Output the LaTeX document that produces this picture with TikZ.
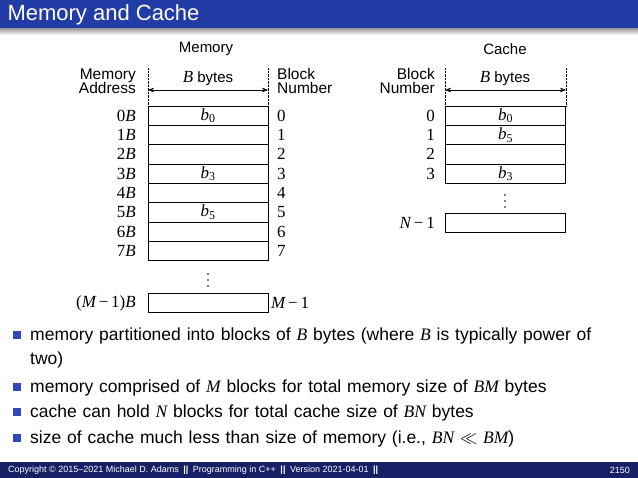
\documentclass[tikz,border=0pt]{standalone}
\usepackage{fontspec}
\setmainfont{Liberation Sans}
\newfontfamily\serifm{Liberation Serif}
\usetikzlibrary{arrows.meta}
\definecolor{titleblue}{RGB}{33,60,165}
\definecolor{footblue}{RGB}{22,32,100}
\definecolor{bulletblue}{RGB}{50,70,190}
\newcommand{\mi}[1]{{\serifm\itshape #1}}
\newcommand{\mr}[1]{{\serifm #1}}
\begin{document}
\begin{tikzpicture}[x=1pt,y=-1pt,
  cell/.style={draw,minimum width=120pt,minimum height=19.3pt,inner sep=0pt,font=\fontsize{17}{17}\selectfont},
  lbl/.style={font=\fontsize{17}{17}\selectfont,inner sep=1pt},
  sl/.style={font=\fontsize{15}{15}\selectfont,inner sep=1pt},
  hd/.style={font=\fontsize{15.5}{14.5}\selectfont,inner sep=1pt,align=left},
  bul/.style={anchor=west,font=\fontsize{17.5}{24}\selectfont,inner sep=0pt,text width=575pt,align=left},
  bsq/.style={fill=bulletblue,minimum size=8pt,inner sep=0pt}]
\useasboundingbox (0,0) rectangle (638,478);
\fill[white] (0,0) rectangle (638,478);
\fill[titleblue] (0,0) rectangle (638,29);
\shade[top color=black!35,bottom color=white] (0,29) rectangle (638,35);
\node[anchor=west,text=white,font=\fontsize{22}{22}\selectfont] (title) at (4,15) {Memory and Cache};
\node[sl] (memt) at (206,49) {Memory};
\node[sl] (cact) at (505,49) {Cache};
\node[hd,anchor=east,align=right] (maddr) at (137,81) {Memory\\Address};
\node[hd,anchor=west] (mbn) at (276,81) {Block\\Number};
\node[hd,anchor=east,align=right] (cbn) at (436,81) {Block\\Number};
\coordinate (m1) at (148,68); \coordinate (m2) at (268,68);
\coordinate (m1b) at (148,106); \coordinate (m2b) at (268,106);
\draw[densely dotted] (m1) -- (m1b); \draw[densely dotted] (m2) -- (m2b);
\coordinate (ma) at (148,90); \coordinate (mb) at (268,90);
\draw[{Stealth[length=6pt]}-{Stealth[length=6pt]}] (ma) -- (mb);
\node[sl] (mbytes) at (208,78) {\mi{\fontsize{17}{17}\selectfont B} bytes};
\coordinate (c1) at (445,68); \coordinate (c2) at (566,68);
\coordinate (c1b) at (445,106); \coordinate (c2b) at (566,106);
\draw[densely dotted] (c1) -- (c1b); \draw[densely dotted] (c2) -- (c2b);
\coordinate (ca) at (445,90); \coordinate (cb) at (566,90);
\draw[{Stealth[length=6pt]}-{Stealth[length=6pt]}] (ca) -- (cb);
\node[sl] (cbytes) at (505,78) {\mi{\fontsize{17}{17}\selectfont B} bytes};
\foreach \i/\t in {0/{\mi{b}\textsubscript{\mr{0}}},1/{},2/{},3/{\mi{b}\textsubscript{\mr{3}}},4/{},5/{\mi{b}\textsubscript{\mr{5}}},6/{},7/{}}{
  \node[cell] (mem\i) at (208,115.7+19.3*\i) {\t};
  \node[lbl,anchor=east] (madr\i) at (137,115.7+19.3*\i) {\mr{\i}\mi{B}};
  \node[lbl,anchor=west] (mnum\i) at (276,115.7+19.3*\i) {\mr{\i}};
}
\foreach \d in {-6,0,6} \fill (208,280+\d) circle (0.8pt);
\node[cell] (memM) at (208,303) {};
\node[lbl,anchor=east] (madrM) at (137,303) {\mr{(}\mi{M}\,\mr{−\,1)}\mi{B}};
\node[lbl,anchor=west] (mnumM) at (270,303) {\mi{M}\,\mr{−\,1}};
\foreach \i/\t in {0/{\mi{b}\textsubscript{\mr{0}}},1/{\mi{b}\textsubscript{\mr{5}}},2/{},3/{\mi{b}\textsubscript{\mr{3}}}}{
  \node[cell] (cac\i) at (505.5,115.7+19.3*\i) {\t};
  \node[lbl,anchor=east] (cnum\i) at (436,115.7+19.3*\i) {\mr{\i}};
}
\foreach \d in {-6,0,6} \fill (505,201+\d) circle (0.8pt);
\node[cell] (cacN) at (505.5,223) {};
\node[lbl,anchor=east] (cnumN) at (436,223) {\mi{N}\,\mr{−\,1}};
% bullets
\node[bsq] (s1) at (17,335) {};
\node[bul,anchor=north west] (t1) at (30,327.5) {memory partitioned into blocks of \mi{B} bytes (where \mi{B} is typically power of two)};
\node[bsq] (s2) at (17,387) {};
\node[bul] (t2) at (30,388) {memory comprised of \mi{M} blocks for total memory size of \mi{BM} bytes};
\node[bsq] (s3) at (17,412) {};
\node[bul] (t3) at (30,413) {cache can hold \mi{N} blocks for total cache size of \mi{BN} bytes};
\node[bsq] (s4) at (17,438) {};
\node[bul] (t4) at (30,439) {size of cache much less than size of memory (i.e., \mi{BN} $\ll$ \mi{BM})};
% footer
\fill[footblue] (0,462) rectangle (638,478);
\node[anchor=west,text=white,font=\fontsize{9}{9}\selectfont,inner sep=0pt] (foot) at (8,470) {Copyright © 2015–2021 Michael D. Adams\enspace\textbf{||}\enspace Programming in C++\enspace\textbf{||}\enspace Version 2021-04-01\enspace\textbf{||}};
\node[anchor=east,text=white,font=\fontsize{9}{9}\selectfont,inner sep=0pt] (page) at (630,470) {2150};
\end{tikzpicture}
\end{document}
